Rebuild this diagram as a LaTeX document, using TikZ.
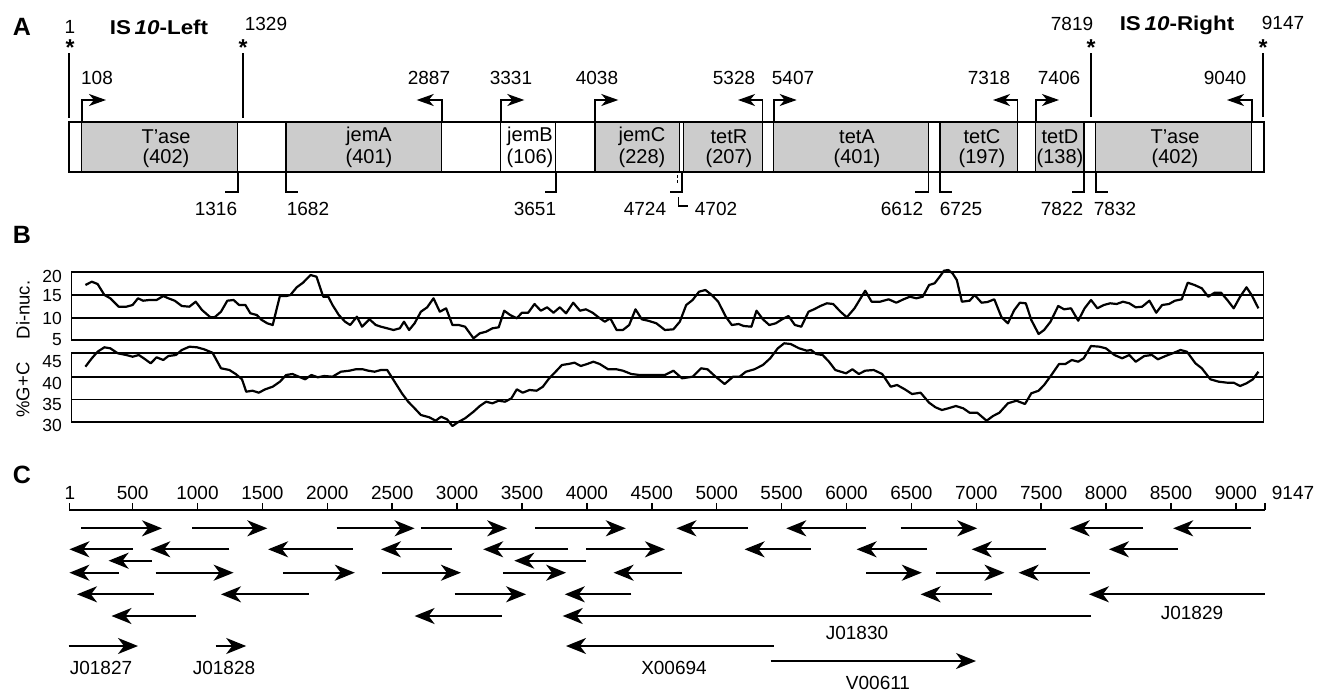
\documentclass[tikz,border=0pt]{standalone}
\usepackage{fontspec}
\usepackage{graphicx}
\setmainfont{Liberation Sans}
\usetikzlibrary{arrows.meta}
\definecolor{shadegray}{RGB}{204,204,204}
\begin{document}
\begin{tikzpicture}[x=1pt,y=-1pt,
  num/.style={font=\fontsize{19}{19}\selectfont, inner sep=0pt},
  glab/.style={font=\fontsize{20}{20}\selectfont, inner sep=0pt},
  axl/.style={font=\fontsize{17.5}{17.5}\selectfont, inner sep=0pt, anchor=east},
  plab/.style={font=\fontsize{25}{25}\selectfont\bfseries, inner sep=0pt},
  islab/.style={font=\fontsize{20}{20}\selectfont\bfseries, inner sep=0pt},
  star/.style={font=\fontsize{23}{23}\selectfont\bfseries, inner sep=0pt, anchor=base},
  isline/.style={line width=2.2pt},
  edge/.style={line width=1.5pt},
  prom/.style={line width=1.6pt, -{Stealth[length=17pt,width=12pt,inset=5pt]}},
  stopm/.style={line width=1.6pt},
  grid/.style={line width=1.7pt},
  curve/.style={line width=2.2pt, line join=round},
  carrow/.style={line width=2pt, -{Stealth[length=20pt,width=16pt,inset=6pt]}},
]
\useasboundingbox (0,0) rectangle (1318,691);

%================ Panel A =================
\node[plab] (A) at (22,27) {A};
\node[islab] (isl) at (159,27) {\scalebox{1.12}[1]{IS\,\textit{10}-Left}};
\node[islab] (isr) at (1177,25) {\scalebox{1.12}[1]{IS\,\textit{10}-Right}};

% shaded genes
\foreach \a/\b in {81.7/237.7, 286/441.7, 595/679.3, 683.3/762.3, 773.7/928.3, 940/1017.3, 1035.7/1084, 1095.7/1251.7}
  \fill[shadegray] (\a,122) rectangle (\b,172);
\foreach \a in {81.7, 237.7, 286, 441.7, 500.7, 555.7, 595, 679.3, 683.3, 762.3, 773.7, 928.3, 940, 1017.3, 1035.7, 1084, 1095.7, 1251.7}
  \draw[edge] (\a,122) -- (\a,172);
\draw[line width=1.9pt] (69,122) rectangle (1264,172);

% gene labels
\foreach \x/\n/\l in {166/T'ase/(402), 369/jemA/(401), 530/jemB/(106), 642/jemC/(228), 729/tetR/(207), 857/tetA/(401), 982/tetC/(197), 1060/tetD/(138), 1175/T'ase/(402)}{
  \node[glab] at (\x,136.7) {\n};
  \node[glab] at (\x,158.3) {\l};
}

% IS10 ends
\draw[line width=1.5pt] (69,53) -- (69,118);
\draw[isline] (243,53) -- (243,118);
\draw[isline] (1091,53) -- (1091,117);
\draw[isline] (1263,53) -- (1263,117);
\foreach \x in {70,243,1091,1263}
  \node[star] at (\x,55) {*};
\node[num] (p1) at (70,27) {1};
\node[num] (p1329) at (266,24) {1329};
\node[num] (p7819) at (1072,24) {7819};
\node[num] (p9147) at (1283,23) {9147};

% promoters (bent arrows)
\draw[prom] (81.7,122) -- (81.7,100) -- (106,100);
\draw[prom] (441.7,122) -- (441.7,100) -- (416.7,100);
\draw[prom] (500.7,122) -- (500.7,100) -- (524.3,100);
\draw[prom] (595,122) -- (595,100) -- (618.3,100);
\draw[prom] (762.3,122) -- (762.3,100) -- (738,100);
\draw[prom] (773.7,122) -- (773.7,100) -- (796.7,100);
\draw[prom] (1017.3,122) -- (1017.3,100) -- (993,100);
\draw[prom] (1035.7,122) -- (1035.7,100) -- (1059,100);
\draw[prom] (1251.7,122) -- (1251.7,100) -- (1227,100);
\foreach \x/\t in {97/108, 429/2887, 511/3331, 597/4038, 734/5328, 793/5407, 989/7318, 1059/7406, 1225/9040}
  \node[num] at (\x,78) {\t};

% stop markers
\draw[stopm] (237.7,172) -- (237.7,192) -- (225,192);
\draw[stopm] (286,172) -- (286,192) -- (298,192);
\draw[stopm] (555.7,172) -- (555.7,192) -- (545,192);
\draw[stopm] (681.7,172) -- (681.7,192) -- (670,192);
\draw[line width=1.2pt, dash pattern=on 3pt off 2pt] (677.3,175) -- (677.3,184);
\draw[stopm] (678.3,197) -- (678.3,206) -- (688,206);
\draw[stopm] (928.3,172) -- (928.3,192) -- (915,192);
\draw[stopm] (940,172) -- (940,192) -- (952,192);
\draw[stopm] (1084,172) -- (1084,192) -- (1072,192);
\draw[stopm] (1095.7,172) -- (1095.7,192) -- (1108,192);
\foreach \x/\t in {216/1316, 308/1682, 535/3651, 645/4724, 716/4702, 902/6612, 961/6725, 1062/7822, 1115/7832}
  \node[num] at (\x,209) {\t};

%================ Panel B =================
\node[plab] (B) at (22,235) {B};
\draw[grid] (71.5,272) rectangle (1263.5,340);
\draw[grid] (71.5,295) -- (1263.5,295);
\draw[grid] (71.5,317.7) -- (1263.5,317.7);
\draw[grid] (71.5,353.3) rectangle (1263.5,422.3);
\draw[grid] (71.5,376.7) -- (1263.5,376.7);
\draw[grid] (71.5,399.5) -- (1263.5,399.5);
\node[axl] at (62,276) {20};
\node[axl] at (62,296) {15};
\node[axl] at (62,318.5) {10};
\node[axl] at (62,340) {5};
\node[axl] at (62,362) {45};
\node[axl] at (62,383) {40};
\node[axl] at (62,404.5) {35};
\node[axl] at (62,425) {30};
\node[font=\fontsize{18.5}{18.5}\selectfont, rotate=90, inner sep=0pt] (dn) at (23,310) {Di-nuc.};
\node[font=\fontsize{18.5}{18.5}\selectfont, rotate=90, inner sep=0pt] (gc) at (23,390) {\%G+C};

\draw[curve] plot coordinates {
(85.4,285) (91.8,281.7) (97.6,284) (104.4,295) (110.3,298.3) (118.7,306.7) (126.3,306.7) (132.6,305) (138,298.3) (143.1,300.7) (149.4,300) (156.6,300) (163.3,296) (168.4,298.3) (174.7,300.7) (181.8,306) (189.4,306.7) (195.7,301.7) (202,310) (210.4,317.3) (214.6,317.3) (221,311.7) (227.3,300.7) (233.6,300) (239.1,305) (245.4,305) (250.4,313.3) (256.7,315) (261.8,320) (267.3,323.3) (272.7,325) (279.9,296) (286.2,296) (290.4,295) (296.7,287.3) (303,282.7) (310.6,275) (316.5,276.7) (323.2,296.7) (328.3,296.7) (332.5,305) (338.8,315) (345.1,321.7) (350.2,325) (356.9,316.7) (362,326.7) (369.5,319.3) (375.8,325) (380.9,326.7) (387.2,328.3) (393.5,330) (399.8,328.3) (404,321.7) (409.1,330) (414.6,323.3) (420.9,311.7) (427.2,307.3) (433.5,298.3) (439.8,311.7) (446.1,308.3) (452.4,325) (458.8,325) (465.1,326.7) (473.5,338.3) (479.8,333.3) (486.1,331.7) (492.4,328.3) (498.7,327.3) (504.2,310.7) (510.1,315) (516.8,318.3) (521.9,312.7) (528.2,312.7) (534.5,304) (540.8,310.7) (547.1,307.3) (553.5,312.7) (559.8,307.3) (566.1,313.3) (573.2,302.7) (580,310.7) (585.9,309.3) (592.6,312.7) (598.5,317.3) (604.8,321.7) (610.3,318.3) (616.6,330) (622.9,330) (629.2,325) (635.5,309.3) (641.8,319.3) (648.1,320.7) (656.4,323.3) (664.9,330) (673.4,329.3) (679.8,321.7) (686.2,305) (692.6,300) (699,291.7) (705.4,290) (711.8,295) (718.2,301.7) (725.8,316.7) (731.8,325) (738.6,324) (743.7,326) (751.4,326.7) (756.5,310.7) (762.9,319.3) (769.3,325) (775.7,323.3) (782.1,319.3) (788.5,316) (794.9,325) (801.3,326.7) (808.5,311.7) (814,309.3) (820.4,306) (826.8,303.3) (833.2,304) (840.5,311.7) (846.8,317.3) (854.5,308.3) (865.2,290.7) (871.6,301.7) (880.1,301.7) (888.6,299.3) (896.3,302.7) (903.5,299.3) (909.9,296.7) (916.3,298.3) (922.7,296.7) (929.1,285) (934.6,283.3) (939.7,276.7) (944,270.7) (948.3,270) (952.5,273.3) (956.8,280) (961.9,301.7) (969.6,300.7) (974.7,295) (981.5,302.7) (987.5,302) (994.3,299.3) (1001.5,317.3) (1007.9,323.3) (1014.3,310) (1019.8,302.7) (1025.8,303.3) (1031.3,320) (1038.6,334) (1044.1,330) (1050.5,321.7) (1058.2,306) (1064.1,309.3) (1071,308.3) (1078.2,320.7) (1084.6,308.3) (1091,300) (1097.4,308.3) (1103.8,305) (1110.2,303.3) (1116.6,304) (1123,301.7) (1129.3,303.3) (1135.7,307.3) (1142.1,306.7) (1149.4,300.7) (1156.2,312.7) (1162.1,305) (1169,304) (1174.9,300.7) (1181.7,299.3) (1187.7,282.7) (1194.5,285) (1201.8,288.3) (1208.2,296.7) (1214.6,292.7) (1221,292.7) (1227.3,300) (1233.7,308.3) (1240.1,296.7) (1246.5,287.3) (1251.6,295) (1258.4,308.3)};

\draw[curve] plot coordinates {
(85.4,366.7) (91.8,358.3) (97.6,351.7) (104.4,347.3) (110.3,348.3) (117.8,353.3) (126.3,355) (132.6,356.7) (138.9,355) (145.2,359.3) (150.7,363.3) (156.6,357.3) (163.3,360) (168.4,356) (175.9,355) (181.8,350) (189.4,346.7) (197,347.3) (204.1,349.3) (212.5,352.7) (221,368.3) (229.4,370) (235.7,374) (242,379.3) (246.2,391.7) (252.5,390.7) (258.8,392.7) (265.2,389.3) (272.7,386.7) (279.9,381.7) (286.2,375) (292.5,374) (298.8,376.7) (305.1,379.3) (311.4,375) (317.8,377.3) (324.1,376) (332.5,376.7) (340.9,371.7) (349.3,370.7) (355.6,369.3) (362.8,369.3) (368.3,370.7) (374.6,371.7) (380.9,370) (387.2,370) (395.6,383.3) (401.9,393.3) (408.2,401.7) (414.6,408.3) (420.9,415) (429.3,417.3) (435.6,420.7) (441.1,416.7) (447,419.3) (452.4,426) (458.8,421.7) (465.1,418.3) (473.5,411.7) (479.8,406) (486.1,401.7) (492.4,403.3) (498.7,400.7) (505.1,401.7) (511.4,398.3) (516.8,389.3) (522.7,392.7) (529.5,390) (536.6,390.7) (542.9,386.7) (549.2,378.3) (555.6,371.7) (561.9,365) (568.2,364) (574.5,362.7) (580.8,366) (587.1,364) (593.4,361.7) (599.7,364) (608.2,369.3) (616.6,369.3) (622.9,370.7) (631.3,374) (639.7,375) (650,375) (664.9,375) (673.4,370.7) (682,378.3) (692.6,376.7) (701.1,368.3) (707.5,369.3) (714.8,376) (724.6,384) (733.1,376.7) (739.5,376.7) (745.9,371.7) (754.4,369.3) (762.9,365) (770.2,358.3) (777.8,348.3) (784.2,343.3) (790.6,344) (799.1,348.3) (806.8,350.7) (811.1,350) (816.2,354) (822.6,355) (829,361.7) (835.3,370) (846,373.3) (852.4,369.3) (858.8,374) (865.2,370.7) (873.7,370) (882.2,374) (890.7,386.7) (897.1,385) (904.8,389.3) (912,394) (920.6,392.7) (929.1,402.7) (935.5,407.3) (941.9,410) (948.3,408.3) (955.9,406) (963.2,408.3) (969.6,412.7) (977.2,412.7) (986.6,420.7) (993,416) (999.4,412.7) (1007.9,403.3) (1016.4,400.7) (1025,404) (1031.3,393.3) (1038.6,390.7) (1044.1,385) (1051.4,375) (1059,364) (1065.4,364) (1071.8,360) (1078.2,361.7) (1083.7,358.3) (1091,346) (1099.5,346.7) (1105.9,348.3) (1114.4,355) (1122.1,358.3) (1129.3,355) (1135.7,361.7) (1144.3,356) (1151.9,355) (1157.9,359.3) (1165.5,356) (1174.1,352.7) (1180.5,350) (1186.9,351.7) (1195.4,363.3) (1201.8,368.3) (1210.4,379.3) (1218.8,381.7) (1227.3,382.7) (1233.7,382.7) (1240.1,386) (1246.5,383.3) (1252.9,379.3) (1258.4,371.7)};

%================ Panel C =================
\node[plab] (C) at (22,475) {C};
\draw[line width=1.5pt] (69.4,510) -- (1264.8,510);
\draw[line width=1.5pt] (69.4,510) -- (69.4,503);
\draw[line width=1.5pt] (1264.8,510) -- (1264.8,503);
\foreach \k in {1,...,18}{
  \pgfmathsetmacro{\xx}{132.6+(\k-1)*64.9}
  \pgfmathtruncatemacro{\lab}{\k*500}
  \draw[line width=1.5pt] (\xx,510) -- (\xx,503);
  \node[num] at (\xx,493) {\lab};
}
\node[num] (c1) at (70,493) {1};
\node[num] (c9147) at (1293,493) {9147};

% right-pointing arrows: tail/tip/y
\foreach \a/\b/\y in {81.2/162/528.3, 192.3/267.3/528.3, 336.7/414.6/528.3, 420.9/507.2/528.3, 535.4/625.8/528.3, 900.5/977.2/528.3,
  586.3/665/549.3,
  155.7/233.6/572.7, 282.8/354.8/572.7, 382.2/460.9/572.7, 502.9/566.1/572.7, 866/921.8/572.7, 936.3/1004.5/572.7,
  454.5/526.1/594.3,
  68.6/138/646, 215.5/246.2/646,
  770.6/976/661}
  \draw[carrow] (\a,\y) -- (\b,\y);
% left-pointing arrows: tail/tip/y
\foreach \a/\b/\y in {748/676.4/528.3, 866.4/786.3/528.3, 1143/1069.7/528.3, 1250.8/1173.2/528.3,
  132.6/69.4/549.3, 229.4/150.3/549.3, 352.7/268.1/549.3, 451.6/380.9/549.3, 568.2/483.2/549.3, 810.6/744.6/549.3, 927/856.6/549.3, 1046.3/971.7/549.3, 1177.5/1108.9/549.3,
  151.5/108.6/560.7, 585.9/514.3/560.7,
  118.7/69.4/572.7, 682/613.6/572.7, 1089.7/1018.6/572.7,
  153.6/77/594.3, 308.5/221/594.3, 631.3/564.8/594.3, 992.1/920.6/594.3, 1264.8/1088.9/594.3,
  195.7/111.5/616, 501.7/414.6/616, 1091/562.7/616,
  773.6/566/646}
  \draw[carrow] (\a,\y) -- (\b,\y);

\node[num] (j27) at (101,668) {J01827};
\node[num] (j28) at (224,668) {J01828};
\node[num] (x94) at (674,668) {X00694};
\node[num] (j29) at (1192,612.7) {J01829};
\node[num] (j30) at (857,633.3) {J01830};
\node[num] (v11) at (878,683) {V00611};
\end{tikzpicture}
\end{document}
